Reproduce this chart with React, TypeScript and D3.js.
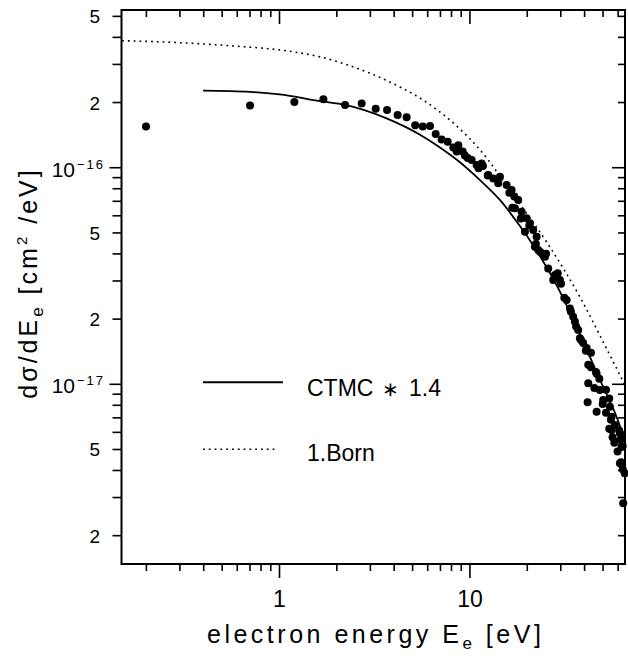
import React from "react";
import * as d3 from "d3";

// ---- data ----
const dataE = [0.199, 0.70, 1.197, 1.70, 2.21, 2.70, 3.20, 3.67, 4.17, 4.65, 5.16, 5.65, 6.17, 6.61, 7.10, 7.64, 8.18, 8.69, 8.52, 9.16, 9.41, 9.73, 10.21, 10.84, 11.52, 11.1, 11.7, 12.4, 12.48, 13.26, 14.37, 14.08, 15.58, 16.1, 16.55, 17.1, 17.93, 16.7, 17.23, 18.68, 18.5, 19.85, 20.65, 20.5, 19.45, 21.49, 22.39, 22.2, 21.94, 22.83, 23.4, 25.1, 24.76, 25.76, 27.94, 28.9, 29.68, 27.37, 30.1, 31.3, 32.19, 33.5, 33.9, 34.85, 35.57, 36.1, 37.02, 38.3, 37.79, 39.34, 41.0, 40.6, 43.2, 41.8, 43.2, 45.9, 46.26, 47.8, 41.8, 45.0, 48.13, 51.8, 50.09, 53.9, 41.5, 49.8, 54.31, 46.26, 51.8, 55.43, 55.0, 57.69, 55.43, 53.9, 60.8, 61.3, 56.1, 62.1, 57.69, 57.3, 63.4, 62.56, 59.6, 62.1, 61.3, 63.4, 65.0, 63.8];
const dataSigma = [1.55e-16, 1.94e-16, 2.01e-16, 2.07e-16, 1.95e-16, 1.98e-16, 1.87e-16, 1.85e-16, 1.75e-16, 1.71e-16, 1.57e-16, 1.55e-16, 1.56e-16, 1.43e-16, 1.35e-16, 1.32e-16, 1.24e-16, 1.27e-16, 1.19e-16, 1.19e-16, 1.14e-16, 1.11e-16, 1.085e-16, 1.03e-16, 1.047e-16, 9.94e-17, 1.02e-16, 9.22e-17, 9.25e-17, 8.93e-17, 9.09e-17, 8.47e-17, 8.32e-17, 7.67e-17, 7.89e-17, 7.36e-17, 7.10e-17, 6.53e-17, 6.50e-17, 6.26e-17, 5.83e-17, 5.84e-17, 5.54e-17, 5.41e-17, 5.06e-17, 5.16e-17, 4.80e-17, 4.45e-17, 4.32e-17, 4.17e-17, 4.08e-17, 4.01e-17, 3.88e-17, 3.43e-17, 3.20e-17, 3.26e-17, 3.03e-17, 3.03e-17, 2.91e-17, 2.51e-17, 2.45e-17, 2.24e-17, 2.16e-17, 2.05e-17, 1.95e-17, 1.85e-17, 1.78e-17, 1.60e-17, 1.63e-17, 1.55e-17, 1.47e-17, 1.43e-17, 1.40e-17, 1.23e-17, 1.20e-17, 1.14e-17, 1.12e-17, 1.06e-17, 1.01e-17, 9.61e-18, 9.41e-18, 9.44e-18, 8.46e-18, 8.59e-18, 8.27e-18, 8.11e-18, 7.88e-18, 7.47e-18, 7.39e-18, 7.09e-18, 6.86e-18, 6.49e-18, 6.15e-18, 6.24e-18, 6.12e-18, 5.94e-18, 5.69e-18, 5.58e-18, 5.43e-18, 5.37e-18, 5.17e-18, 5.15e-18, 4.89e-18, 4.37e-18, 4.32e-18, 4.05e-18, 3.88e-18, 2.82e-18];

const ctmcE = [0.397, 0.70, 1.0, 1.63, 2.21, 3.65, 5.47, 6.96, 8.86, 11.29, 14.37, 18.3, 21.42, 28.87, 36.32, 42.66, 48.13, 58.9, 65.1];
const ctmcSigma = [2.27e-16, 2.24e-16, 2.18e-16, 2.03e-16, 1.95e-16, 1.69e-16, 1.42e-16, 1.24e-16, 1.06e-16, 8.77e-17, 7.10e-17, 5.38e-17, 4.40e-17, 2.81e-17, 1.84e-17, 1.34e-17, 1.05e-17, 7.06e-18, 5.53e-18];

const bornE = [0.149, 0.30, 0.598, 1.0, 1.63, 2.87, 4.29, 5.69, 8.44, 11.29, 16.88, 25.27, 37.8, 52.2, 65.1];
const bornSigma = [3.86e-16, 3.78e-16, 3.64e-16, 3.50e-16, 3.25e-16, 2.77e-16, 2.36e-16, 2.05e-16, 1.57e-16, 1.21e-16, 7.48e-17, 4.54e-17, 2.53e-17, 1.46e-17, 9.93e-18];

const xDomain = [0.148, 65.2];
const yDomain = [1.48e-18, 5.35e-16];
const xMajorTicks = [1, 10];
const xTickLabels = ["1", "10"];
const yPowerTicks = [1e-16, 1e-17];
const yPowerLabels = ["−16", "−17"];
const yMantissaTicks = [5e-16, 2e-16, 5e-17, 2e-17, 5e-18, 2e-18];
const yMantissaLabels = ["5", "2", "5", "2", "5", "2"];
const legendLabels = ["CTMC", "∗", "1.4", "1.Born"];

const W = 628;
const H = 656;
const L = 121.5, R = 625, T = 10, B = 564;
const FONT = "'Liberation Sans', Arial, Helvetica, sans-serif";

export default function App() {
  const x = d3.scaleLog().domain(xDomain).range([L, R]);
  const y = d3.scaleLog().domain(yDomain).range([B, T]);

  const minorX: number[] = [];
  [0.1, 1, 10].forEach((dec) => {
    for (let k = 1; k <= 9; k++) {
      const v = dec * k;
      if (v >= xDomain[0] && v <= xDomain[1]) minorX.push(v);
    }
  });
  const minorY: number[] = [];
  [1e-18, 1e-17, 1e-16].forEach((dec) => {
    for (let k = 1; k <= 9; k++) {
      const v = dec * k;
      if (v >= yDomain[0] && v <= yDomain[1]) minorY.push(v);
    }
  });
  const isMajorX = (v: number) => xMajorTicks.some((m) => Math.abs(m - v) / m < 1e-6);
  const isMajorY = (v: number) => yPowerTicks.some((m) => Math.abs(m - v) / m < 1e-6);

  const line = d3
    .line<[number, number]>()
    .x((d) => x(d[0]))
    .y((d) => y(d[1]))
    .curve(d3.curveMonotoneX);

  const ctmcPath = line(ctmcE.map((e, i) => [e, ctmcSigma[i]] as [number, number])) || "";
  const bornPath = line(bornE.map((e, i) => [e, bornSigma[i]] as [number, number])) || "";

  return (
    <svg
      width={W}
      height={H}
      style={{ position: "absolute", left: 0, top: 0, background: "#fff" }}
      fontFamily={FONT}
    >
      <rect x={0} y={0} width={W} height={H} fill="#fff" />
      {/* curves */}
      <path d={bornPath} fill="none" stroke="#000" strokeWidth={1.6} strokeDasharray="1.8 4" />
      <path d={ctmcPath} fill="none" stroke="#000" strokeWidth={1.8} />
      {/* data points */}
      {dataE.map((e, i) => (
        <circle key={i} cx={x(e)} cy={y(dataSigma[i])} r={4} fill="#000" />
      ))}
      {/* frame */}
      <rect x={L} y={T} width={R - L} height={B - T} fill="none" stroke="#000" strokeWidth={2} />
      {/* x ticks */}
      {minorX.map((v, i) => {
        const px = x(v);
        const big = isMajorX(v);
        return (
          <g key={"xt" + i}>
            <line x1={px} x2={px} y1={B} y2={B + (big ? 14 : 7)} stroke="#000" strokeWidth={1.6} />
            <line x1={px} x2={px} y1={T} y2={T + (big ? 14 : 7)} stroke="#000" strokeWidth={1.6} />
          </g>
        );
      })}
      {/* y ticks */}
      {minorY.map((v, i) => {
        const py = y(v);
        const big = isMajorY(v);
        return (
          <g key={"yt" + i}>
            <line x1={L - (big ? 12 : 9)} x2={L} y1={py} y2={py} stroke="#000" strokeWidth={1.6} />
            <line x1={R - (big ? 13 : 7)} x2={R} y1={py} y2={py} stroke="#000" strokeWidth={1.6} />
          </g>
        );
      })}
      {/* x tick labels */}
      {xMajorTicks.map((v, i) => (
        <text key={"xl" + i} x={x(v)} y={607} fontSize={23} textAnchor="middle">
          {xTickLabels[i]}
        </text>
      ))}
      {/* y power labels */}
      {yPowerTicks.map((v, i) => {
        const py = y(v);
        return (
          <g key={"yp" + i}>
            <text x={75} y={py + 9} fontSize={21} textAnchor="end">
              10
            </text>
            <text x={77} y={py + 1} fontSize={13} letterSpacing={2}>
              {yPowerLabels[i]}
            </text>
          </g>
        );
      })}
      {yMantissaTicks.map((v, i) => (
        <text key={"ym" + i} x={100} y={y(v) + 7} fontSize={19} textAnchor="end">
          {yMantissaLabels[i]}
        </text>
      ))}
      {/* axis titles */}
      <text x={207} y={643} fontSize={25} letterSpacing={3.5}>
        electron energy E<tspan fontSize={17} dy={6}>e</tspan>
        <tspan dy={-6}> [eV]</tspan>
      </text>
      <text
        transform="translate(37,283) rotate(-90)"
        fontSize={25}
        letterSpacing={3}
        textAnchor="middle"
      >
        dσ/dE<tspan fontSize={17} dy={6}>e</tspan>
        <tspan dy={-6}> [cm</tspan>
        <tspan fontSize={15} dy={-10}>2</tspan>
        <tspan dy={10}> /eV]</tspan>
      </text>
      {/* legend */}
      <line x1={203} x2={283} y1={382.3} y2={382.3} stroke="#000" strokeWidth={2} />
      <text x={307} y={396} fontSize={23}>{legendLabels[0]}</text>
      <text x={390} y={396} fontSize={20} textAnchor="middle">{legendLabels[1]}</text>
      <text x={409} y={396} fontSize={23}>{legendLabels[2]}</text>
      <line x1={203} x2={278} y1={449.3} y2={449.3} stroke="#000" strokeWidth={1.6} strokeDasharray="1.8 4" />
      <text x={307} y={461} fontSize={23}>{legendLabels[3]}</text>
    </svg>
  );
}
